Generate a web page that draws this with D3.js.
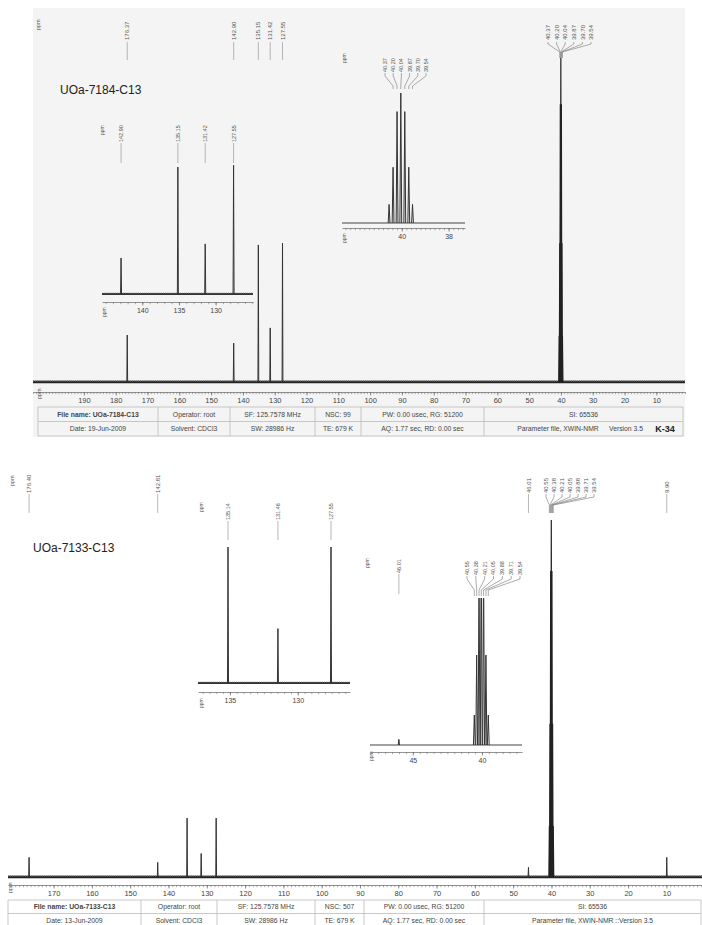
<!DOCTYPE html>
<html><head><meta charset="utf-8">
<script src="https://cdn.jsdelivr.net/npm/d3@7"></script>
<style>body{margin:0;background:#fff}svg{display:block}text{font-family:"Liberation Sans",Arial,sans-serif}</style>
</head><body><svg id="c" width="702" height="925"></svg>
<script>
// ================= DATA =================
// --- spectrum A (top) ---
const titleA = "UOa-7184-C13";
const peaksA_ppm = [176.37, 142.90, 135.15, 131.42, 127.55];
const peaksA_int = [14.5, 12.0, 42.3, 16.7, 42.9];
const peaksA_labels = ["176.37", "142.90", "135.15", "131.42", "127.55"];
const insetA1_labels = ["142.90", "135.15", "131.42", "127.55"];
const solventA_ppm = [40.54, 40.37, 40.20, 40.04, 39.87, 39.70, 39.54];
const solventA_int = [14.3, 42.9, 85.7, 100, 85.7, 42.9, 14.3];
const solventA_labels = ["40.37", "40.20", "40.04", "39.87", "39.70", "39.54"];
const ticksA = [190, 180, 170, 160, 150, 140, 130, 120, 110, 100, 90, 80, 70, 60, 50, 40, 30, 20, 10];
const insetA1_ticks = [140, 135, 130];
const insetA2_ticks = [40, 38];
const tableA_row1 = ["File name: UOa-7184-C13", "Operator: root", "SF: 125.7578 MHz", "NSC: 99", "PW: 0.00 usec, RG: 51200", "SI: 65536"];
const tableA_row2 = ["Date: 19-Jun-2009", "Solvent: CDCl3", "SW: 28986 Hz", "TE: 679 K", "AQ: 1.77 sec, RD: 0.00 sec", "Parameter file, XWIN-NMR"];
const tableA_extra = ["Version 3.5", "K-34"];

// --- spectrum B (bottom) ---
const titleB = "UOa-7133-C13";
const peaksB_ppm = [176.40, 142.81, 135.14, 131.46, 127.55, 46.01, 9.90];
const peaksB_int = [5.5, 4.1, 16.5, 6.6, 16.5, 2.7, 5.5];
const peaksB_labels = ["176.40", "142.81", "46.01", "9.90"];
const insetB1_labels = ["135.14", "131.46", "127.55"];
const insetB2_labels = ["46.01"];
const solventB_ppm = [40.55, 40.38, 40.21, 40.05, 39.88, 39.71, 39.54];
const solventB_int = [14.3, 42.9, 85.7, 100, 85.7, 42.9, 14.3];
const solventB_labels = ["40.55", "40.38", "40.21", "40.05", "39.88", "39.71", "39.54"];
const ticksB = [170, 160, 150, 140, 130, 120, 110, 100, 90, 80, 70, 60, 50, 40, 30, 20, 10];
const insetB1_ticks = [135, 130];
const insetB2_ticks = [45, 40];
const tableB_row1 = ["File name: UOa-7133-C13", "Operator: root", "SF: 125.7578 MHz", "NSC: 507", "PW: 0.00 usec, RG: 51200", "SI: 65536"];
const tableB_row2 = ["Date: 13-Jun-2009", "Solvent: CDCl3", "SW: 28986 Hz", "TE: 679 K", "AQ: 1.77 sec, RD: 0.00 sec", "Parameter file, XWIN-NMR  ::Version 3.5"];

// ================= DRAWING =================
const svg = d3.select("#c");
const peaksA = peaksA_ppm.map((p, i) => ({ppm: p, v: peaksA_int[i]}));
const solvA = solventA_ppm.map((p, i) => ({ppm: p, v: solventA_int[i]}));
const peaksB = peaksB_ppm.map((p, i) => ({ppm: p, v: peaksB_int[i]}));
const solvB = solventB_ppm.map((p, i) => ({ppm: p, v: solventB_int[i]}));
const labelPpm = s => parseFloat(s);

// light scanned-paper background of top sheet
svg.append("rect").attr("x", 33).attr("y", 8).attr("width", 652).attr("height", 429).attr("fill", "#f4f4f4");

function drawAxis(g, x, yPos, majors, minorStep, fs) {
  const [a, b] = x.domain();
  const lo = Math.min(a, b), hi = Math.max(a, b);
  const minors = d3.range(Math.ceil(lo / minorStep), Math.floor(hi / minorStep) + 1).map(k => +(k * minorStep).toFixed(3));
  const gm = g.append("g").attr("transform", `translate(0,${yPos})`)
    .call(d3.axisBottom(x).tickValues(minors).tickSize(2.2).tickSizeOuter(0).tickFormat(""));
  gm.select(".domain").attr("stroke", "#777").attr("stroke-width", 0.8);
  gm.selectAll(".tick line").attr("stroke", "#777").attr("stroke-width", 0.6);
  const gM = g.append("g").attr("transform", `translate(0,${yPos})`)
    .call(d3.axisBottom(x).tickValues(majors).tickSize(3.5).tickSizeOuter(0).tickPadding(2.5).tickFormat(d3.format("d")));
  gM.select(".domain").remove();
  gM.selectAll(".tick line").attr("stroke", "#666").attr("stroke-width", 0.7);
  gM.selectAll(".tick text").attr("font-size", fs).attr("fill", "#444").attr("font-family", "Liberation Sans, Arial, sans-serif");
}

function ppmText(g, xPos, yBottom, fs) {
  g.append("text").attr("transform", `translate(${xPos},${yBottom}) rotate(-90)`)
    .attr("font-size", fs).attr("fill", "#555").text("ppm");
}

function drawBaseline(g, x, yb, width, color) {
  const [r0, r1] = x.range();
  g.append("line").attr("x1", r0).attr("x2", r1).attr("y1", yb).attr("y2", yb)
    .attr("stroke", color).attr("stroke-width", width);
  g.append("line").attr("x1", r0).attr("x2", r1).attr("y1", yb - width * 0.35).attr("y2", yb - width * 0.35)
    .attr("stroke", "#555").attr("stroke-width", width * 0.6).attr("stroke-dasharray", "1.2,0.9");
}

function drawPeaks(g, x, y, data, sw, color, hw) {
  g.selectAll(null).data(data).enter().append("path")
    .attr("d", d => `M${x(d.ppm) - hw},${y(0)} L${x(d.ppm)},${y(d.v)} L${x(d.ppm) + hw},${y(0)}`)
    .attr("fill", "none").attr("stroke", color).attr("stroke-width", sw);
}

function singleLabels(g, labels, x, textBottom, l1, l2, fs) {
  labels.forEach(s => {
    const lx = x(labelPpm(s));
    g.append("text").attr("transform", `translate(${lx + fs * 0.36},${textBottom}) rotate(-90)`)
      .attr("font-size", fs).attr("fill", "#555").text(s);
    g.append("line").attr("x1", lx).attr("x2", lx).attr("y1", l1).attr("y2", l2)
      .attr("stroke", "#999").attr("stroke-width", 0.7);
  });
}

function groupLabels(g, labels, x, lx0, lx1, textBottom, y1, yBend, yConv, yEnd, fs) {
  const n = labels.length;
  labels.forEach((s, i) => {
    const lx = lx0 + i * (lx1 - lx0) / (n - 1);
    const px = x(labelPpm(s));
    g.append("text").attr("transform", `translate(${lx + fs * 0.36},${textBottom}) rotate(-90)`)
      .attr("font-size", fs).attr("fill", "#555").text(s);
    g.append("path").attr("d", `M${lx},${y1} V${yBend} L${px},${yConv} V${yEnd}`)
      .attr("fill", "none").attr("stroke", "#888").attr("stroke-width", 0.7);
  });
}

function drawTable(g, cols, yTop, rowH, row1, row2, fs) {
  const yMid = yTop + rowH, yBot = yTop + 2 * rowH;
  [yTop, yMid, yBot].forEach(yy => g.append("line").attr("x1", cols[0]).attr("x2", cols[cols.length - 1])
    .attr("y1", yy).attr("y2", yy).attr("stroke", "#bbb").attr("stroke-width", 0.8));
  cols.forEach(cx => g.append("line").attr("x1", cx).attr("x2", cx).attr("y1", yTop).attr("y2", yBot)
    .attr("stroke", "#bbb").attr("stroke-width", 0.8));
  [row1, row2].forEach((row, r) => {
    row.forEach((t, i) => {
      g.append("text").attr("x", (cols[i] + cols[i + 1]) / 2).attr("y", yTop + r * rowH + rowH / 2 + fs * 0.36)
        .attr("text-anchor", "middle").attr("font-size", fs).attr("fill", "#444")
        .attr("font-weight", (r === 0 && i === 0) ? "bold" : "normal").text(t);
    });
  });
}

// ----------------- TOP SPECTRUM -----------------
const gA = svg.append("g");
const xA = d3.scaleLinear().domain([206, 1]).range([33, 685]);
const yA = d3.scaleLinear().domain([0, 100]).range([382, 58]);
drawBaseline(gA, xA, 382, 2.4, "#222");
drawPeaks(gA, xA, yA, peaksA, 1, "#333", 0.4);
drawPeaks(gA, xA, yA, solvA, 1.2, "#222", 0.5);
drawAxis(gA, xA, 392, ticksA, 1, 7.5);
ppmText(gA, 41, 399, 5.5);
ppmText(gA, 40, 30, 5.5);
singleLabels(gA, peaksA_labels, xA, 40, 42, 60, 6);
groupLabels(gA, solventA_labels, xA, 548, 591, 40, 42, 44, 52, 58, 6);
gA.append("text").attr("x", 60).attr("y", 94).attr("font-size", 12).attr("fill", "#222").text(titleA);

// inset A1 (aromatic)
const xA1 = d3.scaleLinear().domain([145.5, 124.9]).range([102, 253]);
const yA1 = d3.scaleLinear().domain([0, 42.3]).range([294, 167]);
drawBaseline(gA, xA1, 294, 1.8, "#333");
drawPeaks(gA, xA1, yA1, peaksA.filter(d => d.ppm < 145), 1, "#333", 0.5);
drawAxis(gA, xA1, 302, insetA1_ticks, 1, 7);
ppmText(gA, 106, 317, 5);
ppmText(gA, 104, 135, 5);
singleLabels(gA, insetA1_labels, xA1, 142, 143, 163, 5.5);

// inset A2 (solvent multiplet)
const xA2 = d3.scaleLinear().domain([42.55, 37.3]).range([342, 465]);
const yA2 = d3.scaleLinear().domain([0, 100]).range([223, 93]);
gA.append("line").attr("x1", 342).attr("x2", 465).attr("y1", 223).attr("y2", 223).attr("stroke", "#444").attr("stroke-width", 1.1);
drawPeaks(gA, xA2, yA2, solvA, 1, "#333", 0.9);
drawAxis(gA, xA2, 228, insetA2_ticks, 0.2, 7);
ppmText(gA, 346, 243, 5);
ppmText(gA, 346, 63, 5);
groupLabels(gA, solventA_labels, xA2, 385, 426, 72, 73, 76, 86, 89, 5.5);

// table A
drawTable(gA, [38, 158, 230, 315, 361, 484, 683], 407, 14.5, tableA_row1, tableA_row2.slice(0, 5).concat([""]), 6.8);
gA.append("text").attr("x", 558).attr("y", 431).attr("text-anchor", "middle").attr("font-size", 6.8).attr("fill", "#444").text(tableA_row2[5]);
gA.append("text").attr("x", 626).attr("y", 431).attr("text-anchor", "middle").attr("font-size", 6.8).attr("fill", "#444").text(tableA_extra[0]);
gA.append("text").attr("x", 665).attr("y", 432).attr("text-anchor", "middle").attr("font-size", 9).attr("font-weight", "bold").attr("fill", "#222").text(tableA_extra[1]);

// ----------------- BOTTOM SPECTRUM -----------------
const gB = svg.append("g");
const xB = d3.scaleLinear().domain([181.9, 0.7]).range([8, 702]);
const yB = d3.scaleLinear().domain([0, 100]).range([877, 520]);
drawBaseline(gB, xB, 877, 2.4, "#222");
drawPeaks(gB, xB, yB, peaksB, 1, "#333", 0.4);
drawPeaks(gB, xB, yB, solvB, 1.2, "#222", 0.5);
drawAxis(gB, xB, 885, ticksB, 1, 7.5);
ppmText(gB, 12, 893, 5.5);
ppmText(gB, 14, 486, 5.5);
singleLabels(gB, peaksB_labels, xB, 493, 494, 513, 6);
groupLabels(gB, solventB_labels, xB, 546, 594, 493, 494, 497, 505, 513, 6);
gB.append("text").attr("x", 33).attr("y", 552).attr("font-size", 12).attr("fill", "#222").text(titleB);

// inset B1 (aromatic)
const xB1 = d3.scaleLinear().domain([137.35, 126.15]).range([198, 350]);
const yB1 = d3.scaleLinear().domain([0, 16.5]).range([683, 547]);
drawBaseline(gB, xB1, 683, 1.8, "#333");
drawPeaks(gB, xB1, yB1, peaksB.filter(d => d.ppm < 137 && d.ppm > 126), 1, "#333", 0.5);
drawAxis(gB, xB1, 692, insetB1_ticks, 0.5, 7);
ppmText(gB, 203, 708, 5);
ppmText(gB, 203, 512, 5);
singleLabels(gB, insetB1_labels, xB1, 520, 521, 540, 5.5);

// inset B2 (solvent multiplet)
const xB2 = d3.scaleLinear().domain([48.1, 37.1]).range([370, 522]);
const yB2 = d3.scaleLinear().domain([0, 14.3]).range([745, 715]);
svg.append("defs").append("clipPath").attr("id", "clipB2").append("rect")
  .attr("x", 360).attr("y", 598).attr("width", 170).attr("height", 160);
gB.append("line").attr("x1", 370).attr("x2", 522).attr("y1", 745).attr("y2", 745).attr("stroke", "#444").attr("stroke-width", 1.1);
const gB2 = gB.append("g").attr("clip-path", "url(#clipB2)");
drawPeaks(gB2, xB2, yB2, solvB, 1, "#333", 0.9);
drawPeaks(gB2, xB2, yB2, peaksB.filter(d => d.ppm > 45 && d.ppm < 48), 1, "#333", 0.6);
drawAxis(gB, xB2, 752, insetB2_ticks, 0.5, 7);
ppmText(gB, 373, 761, 5);
ppmText(gB, 369, 568, 5);
singleLabels(gB, insetB2_labels, xB2, 573, 574, 594, 5.5);
groupLabels(gB, solventB_labels, xB2, 467, 520, 575, 576, 579, 590, 596, 5.5);

// table B
drawTable(gB, [8, 141, 217, 315, 364, 484, 701], 900, 13.5, tableB_row1, tableB_row2, 6.8);
</script>
</body></html>
